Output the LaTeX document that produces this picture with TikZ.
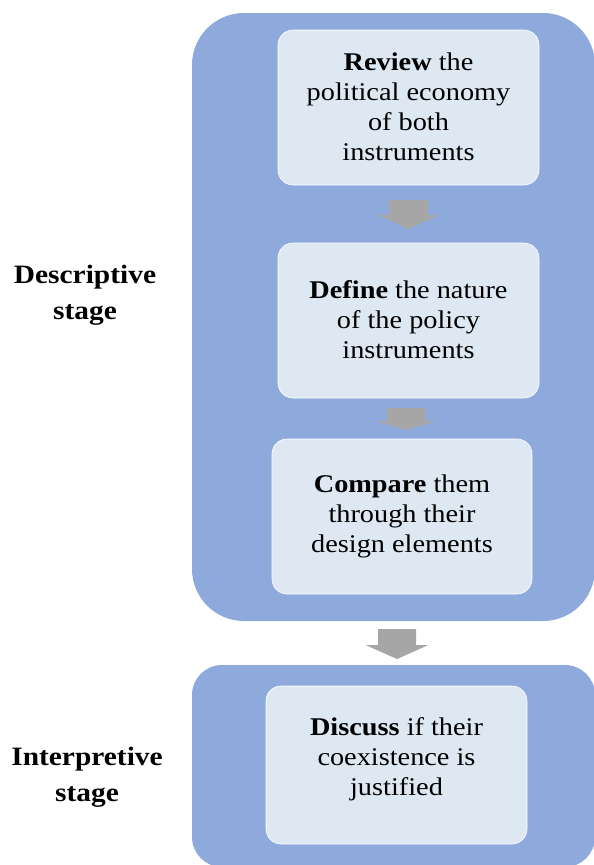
\documentclass[tikz,border=0pt]{standalone}
\usepackage{fontspec}
\setmainfont{Liberation Serif}[FakeStretch=1.11]
\definecolor{stageblue}{HTML}{8EA9DB}
\definecolor{steplight}{HTML}{DDE8F3}
\definecolor{arrowgray}{HTML}{A6A6A6}
\newcommand\DownArrow[6]{% centre x, shaft half width, head half width, top, head y, tip y
  \fill[arrowgray] (#1-#2,#4) -- (#1+#2,#4) -- (#1+#2,#5) -- (#1+#3,#5)
    -- (#1,#6) -- (#1-#3,#5) -- (#1-#2,#5) -- cycle;}
\tikzset{
  stagebox/.style={fill=stageblue, draw=none},
  stepbox/.style={fill=steplight, draw=white, line width=0.6pt, rounded corners=15pt},
  steptext/.style={align=center, font=\fontsize{25.5}{30}\selectfont},
  stagelabel/.style={align=center, font=\bfseries\fontsize{26.5}{36}\selectfont},
}
\begin{document}
\begin{tikzpicture}[x=1pt, y=-1pt]
  \useasboundingbox (0,0) rectangle (594,865);
  % stage containers
  \fill[stagebox, rounded corners=52pt] (192,13) rectangle (595,621);
  \fill[stagebox, rounded corners=30pt] (192,665) rectangle (595,867);
  % step boxes
  \draw[stepbox] (278,30) rectangle (539,185);
  \draw[stepbox] (278,243) rectangle (539,398);
  \draw[stepbox] (272,439) rectangle (532,594);
  \draw[stepbox] (266,686) rectangle (527,844);
  % step texts
  \node[steptext] (review) at (408.5,107) {\textbf{Review} the\\political economy\\of both\\instruments};
  \node[steptext] (define) at (408.5,320) {\textbf{Define} the nature\\of the policy\\instruments};
  \node[steptext] (compare) at (402,516) {\textbf{Compare} them\\through their\\design elements};
  \node[steptext] (discuss) at (396.5,759) {\textbf{Discuss} if their\\coexistence is\\justified};
  % stage labels
  \node[stagelabel] (descriptive) at (85,295) {Descriptive\\stage};
  \node[stagelabel] (interpretive) at (87,777) {Interpretive\\stage};
  % block arrows between steps
  \DownArrow{408.5}{19.5}{30.5}{200}{215}{229}
  \DownArrow{406}{19}{30.5}{408}{421}{430}
  \DownArrow{397}{19}{31.5}{629}{645}{659}
\end{tikzpicture}
\end{document}
